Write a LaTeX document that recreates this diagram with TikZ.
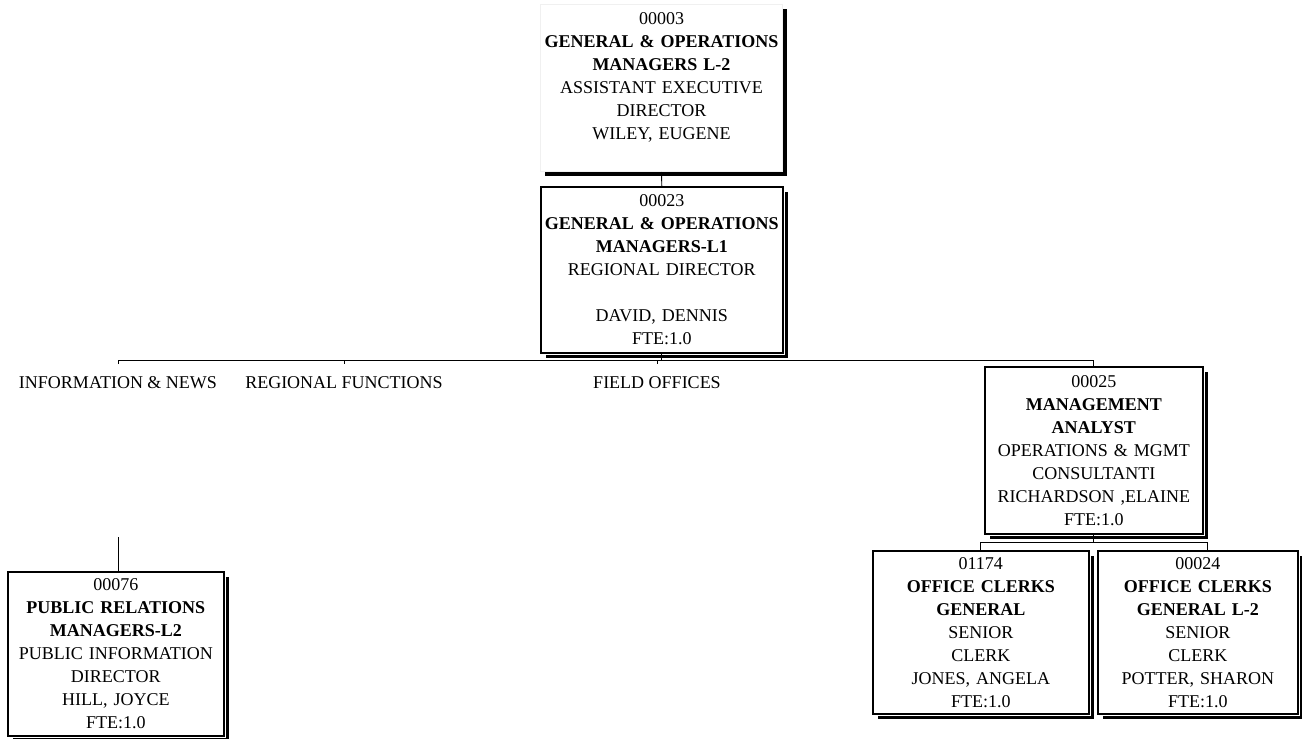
\documentclass[tikz,border=0pt]{standalone}
\usepackage{fontspec}
\setmainfont{Liberation Serif}
\usetikzlibrary{shadows}
\begin{document}
\begin{tikzpicture}[x=1pt,y=-1pt,
  every node/.style={font=\fontsize{18}{23}\selectfont},
  card/.style={anchor=north west, inner sep=0pt, align=center, fill=white,
    drop shadow={shadow xshift=5pt, shadow yshift=-5pt, fill=black, opacity=1},
    preaction={draw=white, line width=4pt},
    draw=black, line width=1.6pt},
  topcard/.style={anchor=north west, inner sep=0pt, align=center, fill=white,
    drop shadow={shadow xshift=4pt, shadow yshift=-4pt, fill=black, opacity=1},
    draw=black!6, line width=1pt},
  branch/.style={anchor=base, inner sep=0pt},
  link/.style={draw=black, line width=0.9pt}]
\useasboundingbox (0,0) rectangle (1302,739);

% position boxes
\node[topcard, text width=242pt, minimum height=167pt] (n3) at (540,4)
  {00003\\ \textbf{GENERAL \& OPERATIONS}\\ \textbf{MANAGERS L-2}\\
   ASSISTANT EXECUTIVE\\ DIRECTOR\\ WILEY, EUGENE\\ \mbox{}};
\node[card, text width=242pt, minimum height=166pt] (n23) at (540,186)
  {00023\\ \textbf{GENERAL \& OPERATIONS}\\ \textbf{MANAGERS-L1}\\
   REGIONAL DIRECTOR\\ \mbox{}\\ DAVID, DENNIS\\ FTE:1.0};
\node[card, text width=218pt, minimum height=167pt] (n25) at (984,366)
  {00025\\ \textbf{MANAGEMENT}\\ \textbf{ANALYST}\\
   OPERATIONS \& MGMT\\ CONSULTANTI\\ RICHARDSON ,ELAINE\\ FTE:1.0};
\node[card, text width=216pt, minimum height=164pt] (n76) at (7,571)
  {00076\\ \textbf{PUBLIC RELATIONS}\\ \textbf{MANAGERS-L2}\\
   PUBLIC INFORMATION\\ DIRECTOR\\ HILL, JOYCE\\ FTE:1.0};
\node[card, text width=216pt, minimum height=163pt] (n1174) at (872,550)
  {01174\\ \textbf{OFFICE CLERKS}\\ \textbf{GENERAL}\\
   SENIOR\\ CLERK\\ JONES, ANGELA\\ FTE:1.0};
\node[card, text width=200pt, minimum height=163pt] (n24) at (1097,550)
  {00024\\ \textbf{OFFICE CLERKS}\\ \textbf{GENERAL L-2}\\
   SENIOR\\ CLERK\\ POTTER, SHARON\\ FTE:1.0};

% branch labels under the regional bus
\node[branch] (lInfo)  at (118,388) {INFORMATION \& NEWS};
\node[branch] (lReg)   at (344,388) {REGIONAL FUNCTIONS};
\node[branch] (lField) at (657,388) {FIELD OFFICES};

% connectors
\coordinate (bus) at (0,360);
\coordinate (kids) at (0,542);
\coordinate (c76) at (118,537);
\coordinate (t24) at ([xshift=10pt]n24.north);

\draw[link] (n3.south) -- (n23.north);
\draw[link] (n23.south) -- (n23.south |- bus);
\draw[link] (lInfo.north |- bus) ++(0,4) -- (lInfo.north |- bus) -- (n25.north |- bus) -- (n25.north);
\draw[link] (lReg.north |- bus) -- ++(0,4);
\draw[link] (lField.north |- bus) -- ++(0,4);
\draw[link] (c76) -- (c76 |- n76.north);
\draw[link] (n25.south) -- (n25.south |- kids);
\draw[link] (n1174.north) -- (n1174.north |- kids) -- (t24 |- kids) -- (t24);
\end{tikzpicture}
\end{document}
